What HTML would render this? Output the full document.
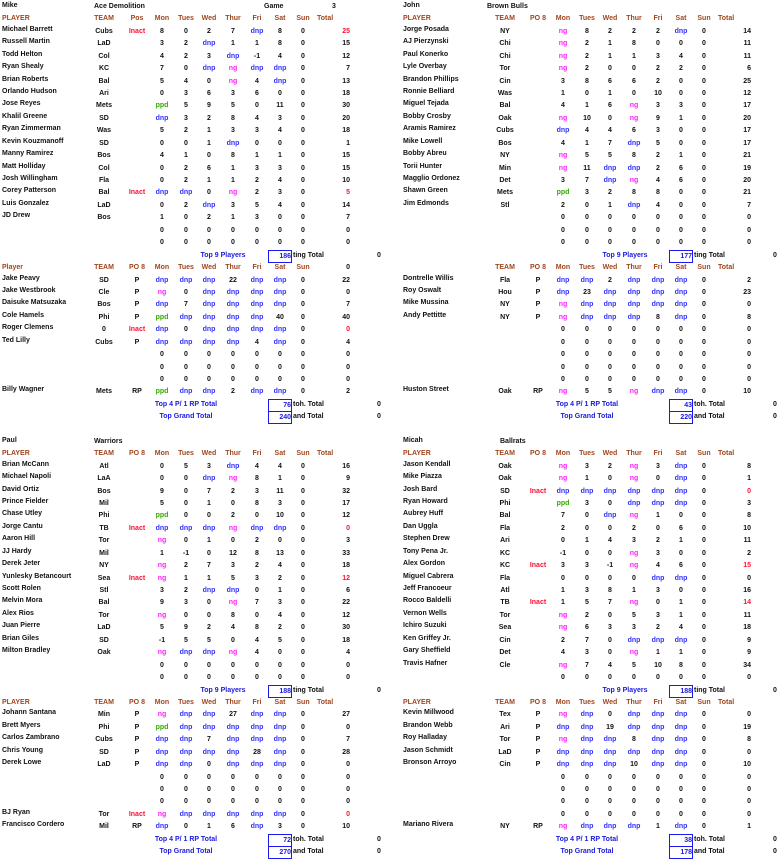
<!DOCTYPE html>
<html><head><meta charset="utf-8">
<style>
*{margin:0;padding:0}
body{width:779px;height:857px;background:#fff;position:relative;overflow:hidden;font-family:"Liberation Sans",Arial,sans-serif;font-size:7px;font-weight:bold;color:#111}
.q{position:absolute;width:390px}
.r{position:relative;height:12.44px;line-height:12.44px;white-space:nowrap}
.r i{position:absolute;font-style:normal;width:30px;margin-left:-15px;text-align:center;top:0}
.r i:nth-child(1){left:2px;margin-left:0;width:auto;text-align:left;top:-2px}
.r i:nth-child(2){left:104px}
.r i:nth-child(3){left:137px}
.r i:nth-child(4){left:162px}
.r i:nth-child(5){left:186px}
.r i:nth-child(6){left:209px}
.r i:nth-child(7){left:233px}
.r i:nth-child(8){left:257px}
.r i:nth-child(9){left:280px}
.r i:nth-child(10){left:303px}
.r i:nth-child(11){left:320px;margin-left:0;text-align:right}
.h i{color:#a0461e}
.h i:nth-child(1){top:0}
.h i:nth-child(11){left:317px;text-align:left}
.h i.k{color:#111;left:320px;text-align:right}
.d{color:#3333ff}.n{color:#ff22ff}.p{color:#33aa00}.x{color:#ff1133}
.r span{position:absolute;top:0}
.tl{color:#1a1add;transform:translateX(-50%)}
.bx{left:268px;width:22px;height:11px;border:1.5px solid #1a1aee;line-height:11px;text-align:right;color:#1a1add;top:0!important}
.tt{left:293px}
.z{left:377px}
.R .z{left:372px}
.tm{left:2px;top:-1px!important}
.tn{left:94px}
</style></head><body>

<!-- TOP LEFT -->
<div class="q" style="left:0;top:0.9px">
<div class="r"><span class="tm">Mike</span><span class="tn">Ace Demolition</span><span style="left:264px">Game</span><span style="left:332px">3</span></div>
<div class="r h"><i>PLAYER</i><i>TEAM</i><i>Pos</i><i>Mon</i><i>Tues</i><i>Wed</i><i>Thur</i><i>Fri</i><i>Sat</i><i>Sun</i><i>Total</i></div>
<div class="r"><i>Michael Barrett</i><i>Cubs</i><i class="x">Inact</i><i>8</i><i>0</i><i>2</i><i>7</i><i class="d">dnp</i><i>8</i><i>0</i><i class="x">25</i></div>
<div class="r"><i>Russell Martin</i><i>LaD</i><i></i><i>3</i><i>2</i><i class="d">dnp</i><i>1</i><i>1</i><i>8</i><i>0</i><i>15</i></div>
<div class="r"><i>Todd Helton</i><i>Col</i><i></i><i>4</i><i>2</i><i>3</i><i class="d">dnp</i><i>-1</i><i>4</i><i>0</i><i>12</i></div>
<div class="r"><i>Ryan Shealy</i><i>KC</i><i></i><i>7</i><i>0</i><i class="d">dnp</i><i class="n">ng</i><i class="d">dnp</i><i class="d">dnp</i><i>0</i><i>7</i></div>
<div class="r"><i>Brian Roberts</i><i>Bal</i><i></i><i>5</i><i>4</i><i>0</i><i class="n">ng</i><i>4</i><i class="d">dnp</i><i>0</i><i>13</i></div>
<div class="r"><i>Orlando Hudson</i><i>Ari</i><i></i><i>0</i><i>3</i><i>6</i><i>3</i><i>6</i><i>0</i><i>0</i><i>18</i></div>
<div class="r"><i>Jose Reyes</i><i>Mets</i><i></i><i class="p">ppd</i><i>5</i><i>9</i><i>5</i><i>0</i><i>11</i><i>0</i><i>30</i></div>
<div class="r"><i>Khalil Greene</i><i>SD</i><i></i><i class="d">dnp</i><i>3</i><i>2</i><i>8</i><i>4</i><i>3</i><i>0</i><i>20</i></div>
<div class="r"><i>Ryan Zimmerman</i><i>Was</i><i></i><i>5</i><i>2</i><i>1</i><i>3</i><i>3</i><i>4</i><i>0</i><i>18</i></div>
<div class="r"><i>Kevin Kouzmanoff</i><i>SD</i><i></i><i>0</i><i>0</i><i>1</i><i class="d">dnp</i><i>0</i><i>0</i><i>0</i><i>1</i></div>
<div class="r"><i>Manny Ramirez</i><i>Bos</i><i></i><i>4</i><i>1</i><i>0</i><i>8</i><i>1</i><i>1</i><i>0</i><i>15</i></div>
<div class="r"><i>Matt Holliday</i><i>Col</i><i></i><i>0</i><i>2</i><i>6</i><i>1</i><i>3</i><i>3</i><i>0</i><i>15</i></div>
<div class="r"><i>Josh Willingham</i><i>Fla</i><i></i><i>0</i><i>2</i><i>1</i><i>1</i><i>2</i><i>4</i><i>0</i><i>10</i></div>
<div class="r"><i>Corey Patterson</i><i>Bal</i><i class="x">Inact</i><i class="d">dnp</i><i class="d">dnp</i><i>0</i><i class="n">ng</i><i>2</i><i>3</i><i>0</i><i class="x">5</i></div>
<div class="r"><i>Luis Gonzalez</i><i>LaD</i><i></i><i>0</i><i>2</i><i class="d">dnp</i><i>3</i><i>5</i><i>4</i><i>0</i><i>14</i></div>
<div class="r"><i>JD Drew</i><i>Bos</i><i></i><i>1</i><i>0</i><i>2</i><i>1</i><i>3</i><i>0</i><i>0</i><i>7</i></div>
<div class="r"><i></i><i></i><i></i><i>0</i><i>0</i><i>0</i><i>0</i><i>0</i><i>0</i><i>0</i><i>0</i></div>
<div class="r"><i></i><i></i><i></i><i>0</i><i>0</i><i>0</i><i>0</i><i>0</i><i>0</i><i>0</i><i>0</i></div>
<div class="r"><span class="tl" style="left:223px">Top 9 Players</span><span class="bx">186</span><span class="tt">ting Total</span><span class="z">0</span></div>
<div class="r h"><i>Player</i><i>TEAM</i><i>PO 8</i><i>Mon</i><i>Tues</i><i>Wed</i><i>Thur</i><i>Fri</i><i>Sat</i><i>Sun</i><i class="k">0</i></div>
<div class="r"><i>Jake Peavy</i><i>SD</i><i>P</i><i class="d">dnp</i><i class="d">dnp</i><i class="d">dnp</i><i>22</i><i class="d">dnp</i><i class="d">dnp</i><i>0</i><i>22</i></div>
<div class="r"><i>Jake Westbrook</i><i>Cle</i><i>P</i><i class="n">ng</i><i>0</i><i class="d">dnp</i><i class="d">dnp</i><i class="d">dnp</i><i class="d">dnp</i><i>0</i><i>0</i></div>
<div class="r"><i>Daisuke Matsuzaka</i><i>Bos</i><i>P</i><i class="d">dnp</i><i>7</i><i class="d">dnp</i><i class="d">dnp</i><i class="d">dnp</i><i class="d">dnp</i><i>0</i><i>7</i></div>
<div class="r"><i>Cole Hamels</i><i>Phi</i><i>P</i><i class="p">ppd</i><i class="d">dnp</i><i class="d">dnp</i><i class="d">dnp</i><i class="d">dnp</i><i>40</i><i>0</i><i>40</i></div>
<div class="r"><i>Roger Clemens</i><i>0</i><i class="x">Inact</i><i class="d">dnp</i><i>0</i><i class="d">dnp</i><i class="d">dnp</i><i class="d">dnp</i><i class="d">dnp</i><i>0</i><i class="x">0</i></div>
<div class="r"><i>Ted Lilly</i><i>Cubs</i><i>P</i><i class="d">dnp</i><i class="d">dnp</i><i class="d">dnp</i><i class="d">dnp</i><i>4</i><i class="d">dnp</i><i>0</i><i>4</i></div>
<div class="r"><i></i><i></i><i></i><i>0</i><i>0</i><i>0</i><i>0</i><i>0</i><i>0</i><i>0</i><i>0</i></div>
<div class="r"><i></i><i></i><i></i><i>0</i><i>0</i><i>0</i><i>0</i><i>0</i><i>0</i><i>0</i><i>0</i></div>
<div class="r"><i></i><i></i><i></i><i>0</i><i>0</i><i>0</i><i>0</i><i>0</i><i>0</i><i>0</i><i>0</i></div>
<div class="r"><i>Billy Wagner</i><i>Mets</i><i>RP</i><i class="p">ppd</i><i class="d">dnp</i><i class="d">dnp</i><i>2</i><i class="d">dnp</i><i class="d">dnp</i><i>0</i><i>2</i></div>
<div class="r"><span class="tl" style="left:186px">Top 4 P/ 1 RP Total</span><span class="bx">76</span><span class="tt">toh. Total</span><span class="z">0</span></div>
<div class="r"><span class="tl" style="left:186px">Top Grand Total</span><span class="bx">240</span><span class="tt">and Total</span><span class="z">0</span></div>
</div>

<!-- TOP RIGHT -->
<div class="q R" style="left:401px;top:0.9px">
<div class="r"><span class="tm">John</span><span class="tn" style="left:86px">Brown Bulls</span></div>
<div class="r h"><i>PLAYER</i><i>TEAM</i><i>PO 8</i><i>Mon</i><i>Tues</i><i>Wed</i><i>Thur</i><i>Fri</i><i>Sat</i><i>Sun</i><i>Total</i></div>
<div class="r"><i>Jorge Posada</i><i>NY</i><i></i><i class="n">ng</i><i>8</i><i>2</i><i>2</i><i>2</i><i class="d">dnp</i><i>0</i><i>14</i></div>
<div class="r"><i>AJ Pierzynski</i><i>Chi</i><i></i><i class="n">ng</i><i>2</i><i>1</i><i>8</i><i>0</i><i>0</i><i>0</i><i>11</i></div>
<div class="r"><i>Paul Konerko</i><i>Chi</i><i></i><i class="n">ng</i><i>2</i><i>1</i><i>1</i><i>3</i><i>4</i><i>0</i><i>11</i></div>
<div class="r"><i>Lyle Overbay</i><i>Tor</i><i></i><i class="n">ng</i><i>2</i><i>0</i><i>0</i><i>2</i><i>2</i><i>0</i><i>6</i></div>
<div class="r"><i>Brandon Phillips</i><i>Cin</i><i></i><i>3</i><i>8</i><i>6</i><i>6</i><i>2</i><i>0</i><i>0</i><i>25</i></div>
<div class="r"><i>Ronnie Belliard</i><i>Was</i><i></i><i>1</i><i>0</i><i>1</i><i>0</i><i>10</i><i>0</i><i>0</i><i>12</i></div>
<div class="r"><i>Miguel Tejada</i><i>Bal</i><i></i><i>4</i><i>1</i><i>6</i><i class="n">ng</i><i>3</i><i>3</i><i>0</i><i>17</i></div>
<div class="r"><i>Bobby Crosby</i><i>Oak</i><i></i><i class="n">ng</i><i>10</i><i>0</i><i class="n">ng</i><i>9</i><i>1</i><i>0</i><i>20</i></div>
<div class="r"><i>Aramis Ramirez</i><i>Cubs</i><i></i><i class="d">dnp</i><i>4</i><i>4</i><i>6</i><i>3</i><i>0</i><i>0</i><i>17</i></div>
<div class="r"><i>Mike Lowell</i><i>Bos</i><i></i><i>4</i><i>1</i><i>7</i><i class="d">dnp</i><i>5</i><i>0</i><i>0</i><i>17</i></div>
<div class="r"><i>Bobby Abreu</i><i>NY</i><i></i><i class="n">ng</i><i>5</i><i>5</i><i>8</i><i>2</i><i>1</i><i>0</i><i>21</i></div>
<div class="r"><i>Torii Hunter</i><i>Min</i><i></i><i class="n">ng</i><i>11</i><i class="d">dnp</i><i class="d">dnp</i><i>2</i><i>6</i><i>0</i><i>19</i></div>
<div class="r"><i>Magglio Ordonez</i><i>Det</i><i></i><i>3</i><i>7</i><i class="d">dnp</i><i class="n">ng</i><i>4</i><i>6</i><i>0</i><i>20</i></div>
<div class="r"><i>Shawn Green</i><i>Mets</i><i></i><i class="p">ppd</i><i>3</i><i>2</i><i>8</i><i>8</i><i>0</i><i>0</i><i>21</i></div>
<div class="r"><i>Jim Edmonds</i><i>Stl</i><i></i><i>2</i><i>0</i><i>1</i><i class="d">dnp</i><i>4</i><i>0</i><i>0</i><i>7</i></div>
<div class="r"><i></i><i></i><i></i><i>0</i><i>0</i><i>0</i><i>0</i><i>0</i><i>0</i><i>0</i><i>0</i></div>
<div class="r"><i></i><i></i><i></i><i>0</i><i>0</i><i>0</i><i>0</i><i>0</i><i>0</i><i>0</i><i>0</i></div>
<div class="r"><i></i><i></i><i></i><i>0</i><i>0</i><i>0</i><i>0</i><i>0</i><i>0</i><i>0</i><i>0</i></div>
<div class="r"><span class="tl" style="left:224px">Top 9 Players</span><span class="bx">177</span><span class="tt">ting Total</span><span class="z">0</span></div>
<div class="r h"><i></i><i>TEAM</i><i>PO 8</i><i>Mon</i><i>Tues</i><i>Wed</i><i>Thur</i><i>Fri</i><i>Sat</i><i>Sun</i><i>Total</i></div>
<div class="r"><i>Dontrelle Willis</i><i>Fla</i><i>P</i><i class="d">dnp</i><i class="d">dnp</i><i>2</i><i class="d">dnp</i><i class="d">dnp</i><i class="d">dnp</i><i>0</i><i>2</i></div>
<div class="r"><i>Roy Oswalt</i><i>Hou</i><i>P</i><i class="d">dnp</i><i>23</i><i class="d">dnp</i><i class="d">dnp</i><i class="d">dnp</i><i class="d">dnp</i><i>0</i><i>23</i></div>
<div class="r"><i>Mike Mussina</i><i>NY</i><i>P</i><i class="n">ng</i><i class="d">dnp</i><i class="d">dnp</i><i class="d">dnp</i><i class="d">dnp</i><i class="d">dnp</i><i>0</i><i>0</i></div>
<div class="r"><i>Andy Pettitte</i><i>NY</i><i>P</i><i class="n">ng</i><i class="d">dnp</i><i class="d">dnp</i><i class="d">dnp</i><i>8</i><i class="d">dnp</i><i>0</i><i>8</i></div>
<div class="r"><i></i><i></i><i></i><i>0</i><i>0</i><i>0</i><i>0</i><i>0</i><i>0</i><i>0</i><i>0</i></div>
<div class="r"><i></i><i></i><i></i><i>0</i><i>0</i><i>0</i><i>0</i><i>0</i><i>0</i><i>0</i><i>0</i></div>
<div class="r"><i></i><i></i><i></i><i>0</i><i>0</i><i>0</i><i>0</i><i>0</i><i>0</i><i>0</i><i>0</i></div>
<div class="r"><i></i><i></i><i></i><i>0</i><i>0</i><i>0</i><i>0</i><i>0</i><i>0</i><i>0</i><i>0</i></div>
<div class="r"><i></i><i></i><i></i><i>0</i><i>0</i><i>0</i><i>0</i><i>0</i><i>0</i><i>0</i><i>0</i></div>
<div class="r"><i>Huston Street</i><i>Oak</i><i>RP</i><i class="n">ng</i><i>5</i><i>5</i><i class="n">ng</i><i class="d">dnp</i><i class="d">dnp</i><i>0</i><i>10</i></div>
<div class="r"><span class="tl" style="left:186px">Top 4 P/ 1 RP Total</span><span class="bx">43</span><span class="tt">toh. Total</span><span class="z">0</span></div>
<div class="r"><span class="tl" style="left:186px">Top Grand Total</span><span class="bx">220</span><span class="tt">and Total</span><span class="z">0</span></div>
</div>

<!-- BOTTOM LEFT -->
<div class="q" style="left:0;top:435.8px">
<div class="r"><span class="tm">Paul</span><span class="tn">Warriors</span></div>
<div class="r h"><i>PLAYER</i><i>TEAM</i><i>PO 8</i><i>Mon</i><i>Tues</i><i>Wed</i><i>Thur</i><i>Fri</i><i>Sat</i><i>Sun</i><i>Total</i></div>
<div class="r"><i>Brian McCann</i><i>Atl</i><i></i><i>0</i><i>5</i><i>3</i><i class="d">dnp</i><i>4</i><i>4</i><i>0</i><i>16</i></div>
<div class="r"><i>Michael Napoli</i><i>LaA</i><i></i><i>0</i><i>0</i><i class="d">dnp</i><i class="n">ng</i><i>8</i><i>1</i><i>0</i><i>9</i></div>
<div class="r"><i>David Ortiz</i><i>Bos</i><i></i><i>9</i><i>0</i><i>7</i><i>2</i><i>3</i><i>11</i><i>0</i><i>32</i></div>
<div class="r"><i>Prince Fielder</i><i>Mil</i><i></i><i>5</i><i>0</i><i>1</i><i>0</i><i>8</i><i>3</i><i>0</i><i>17</i></div>
<div class="r"><i>Chase Utley</i><i>Phi</i><i></i><i class="p">ppd</i><i>0</i><i>0</i><i>2</i><i>0</i><i>10</i><i>0</i><i>12</i></div>
<div class="r"><i>Jorge Cantu</i><i>TB</i><i class="x">Inact</i><i class="d">dnp</i><i class="d">dnp</i><i class="d">dnp</i><i class="n">ng</i><i class="d">dnp</i><i class="d">dnp</i><i>0</i><i class="x">0</i></div>
<div class="r"><i>Aaron Hill</i><i>Tor</i><i></i><i class="n">ng</i><i>0</i><i>1</i><i>0</i><i>2</i><i>0</i><i>0</i><i>3</i></div>
<div class="r"><i>JJ Hardy</i><i>Mil</i><i></i><i>1</i><i>-1</i><i>0</i><i>12</i><i>8</i><i>13</i><i>0</i><i>33</i></div>
<div class="r"><i>Derek Jeter</i><i>NY</i><i></i><i class="n">ng</i><i>2</i><i>7</i><i>3</i><i>2</i><i>4</i><i>0</i><i>18</i></div>
<div class="r"><i>Yunlesky Betancourt</i><i>Sea</i><i class="x">Inact</i><i class="n">ng</i><i>1</i><i>1</i><i>5</i><i>3</i><i>2</i><i>0</i><i class="x">12</i></div>
<div class="r"><i>Scott Rolen</i><i>Stl</i><i></i><i>3</i><i>2</i><i class="d">dnp</i><i class="d">dnp</i><i>0</i><i>1</i><i>0</i><i>6</i></div>
<div class="r"><i>Melvin Mora</i><i>Bal</i><i></i><i>9</i><i>3</i><i>0</i><i class="n">ng</i><i>7</i><i>3</i><i>0</i><i>22</i></div>
<div class="r"><i>Alex Rios</i><i>Tor</i><i></i><i class="n">ng</i><i>0</i><i>0</i><i>8</i><i>0</i><i>4</i><i>0</i><i>12</i></div>
<div class="r"><i>Juan Pierre</i><i>LaD</i><i></i><i>5</i><i>9</i><i>2</i><i>4</i><i>8</i><i>2</i><i>0</i><i>30</i></div>
<div class="r"><i>Brian Giles</i><i>SD</i><i></i><i>-1</i><i>5</i><i>5</i><i>0</i><i>4</i><i>5</i><i>0</i><i>18</i></div>
<div class="r"><i>Milton Bradley</i><i>Oak</i><i></i><i class="n">ng</i><i class="d">dnp</i><i class="d">dnp</i><i class="n">ng</i><i>4</i><i>0</i><i>0</i><i>4</i></div>
<div class="r"><i></i><i></i><i></i><i>0</i><i>0</i><i>0</i><i>0</i><i>0</i><i>0</i><i>0</i><i>0</i></div>
<div class="r"><i></i><i></i><i></i><i>0</i><i>0</i><i>0</i><i>0</i><i>0</i><i>0</i><i>0</i><i>0</i></div>
<div class="r"><span class="tl" style="left:223px">Top 9 Players</span><span class="bx">188</span><span class="tt">ting Total</span><span class="z">0</span></div>
<div class="r h"><i>PLAYER</i><i>TEAM</i><i>PO 8</i><i>Mon</i><i>Tues</i><i>Wed</i><i>Thur</i><i>Fri</i><i>Sat</i><i>Sun</i><i>Total</i></div>
<div class="r"><i>Johann Santana</i><i>Min</i><i>P</i><i class="n">ng</i><i class="d">dnp</i><i class="d">dnp</i><i>27</i><i class="d">dnp</i><i class="d">dnp</i><i>0</i><i>27</i></div>
<div class="r"><i>Brett Myers</i><i>Phi</i><i>P</i><i class="p">ppd</i><i class="d">dnp</i><i class="d">dnp</i><i class="d">dnp</i><i class="d">dnp</i><i class="d">dnp</i><i>0</i><i>0</i></div>
<div class="r"><i>Carlos Zambrano</i><i>Cubs</i><i>P</i><i class="d">dnp</i><i class="d">dnp</i><i>7</i><i class="d">dnp</i><i class="d">dnp</i><i class="d">dnp</i><i>0</i><i>7</i></div>
<div class="r"><i>Chris Young</i><i>SD</i><i>P</i><i class="d">dnp</i><i class="d">dnp</i><i class="d">dnp</i><i class="d">dnp</i><i>28</i><i class="d">dnp</i><i>0</i><i>28</i></div>
<div class="r"><i>Derek Lowe</i><i>LaD</i><i>P</i><i class="d">dnp</i><i class="d">dnp</i><i>0</i><i class="d">dnp</i><i class="d">dnp</i><i class="d">dnp</i><i>0</i><i>0</i></div>
<div class="r"><i></i><i></i><i></i><i>0</i><i>0</i><i>0</i><i>0</i><i>0</i><i>0</i><i>0</i><i>0</i></div>
<div class="r"><i></i><i></i><i></i><i>0</i><i>0</i><i>0</i><i>0</i><i>0</i><i>0</i><i>0</i><i>0</i></div>
<div class="r"><i></i><i></i><i></i><i>0</i><i>0</i><i>0</i><i>0</i><i>0</i><i>0</i><i>0</i><i>0</i></div>
<div class="r"><i>BJ Ryan</i><i>Tor</i><i class="x">Inact</i><i class="n">ng</i><i class="d">dnp</i><i class="d">dnp</i><i class="d">dnp</i><i class="d">dnp</i><i class="d">dnp</i><i>0</i><i class="x">0</i></div>
<div class="r"><i>Francisco Cordero</i><i>Mil</i><i>RP</i><i class="d">dnp</i><i>0</i><i>1</i><i>6</i><i class="d">dnp</i><i>3</i><i>0</i><i>10</i></div>
<div class="r"><span class="tl" style="left:186px">Top 4 P/ 1 RP Total</span><span class="bx">72</span><span class="tt">toh. Total</span><span class="z">0</span></div>
<div class="r"><span class="tl" style="left:186px">Top Grand Total</span><span class="bx">270</span><span class="tt">and Total</span><span class="z">0</span></div>
</div>

<!-- BOTTOM RIGHT -->
<div class="q R" style="left:401px;top:435.8px">
<div class="r"><span class="tm">Micah</span><span class="tn" style="left:99px">Ballrats</span></div>
<div class="r h"><i>PLAYER</i><i>TEAM</i><i>PO 8</i><i>Mon</i><i>Tues</i><i>Wed</i><i>Thur</i><i>Fri</i><i>Sat</i><i>Sun</i><i>Total</i></div>
<div class="r"><i>Jason Kendall</i><i>Oak</i><i></i><i class="n">ng</i><i>3</i><i>2</i><i class="n">ng</i><i>3</i><i class="d">dnp</i><i>0</i><i>8</i></div>
<div class="r"><i>Mike Piazza</i><i>Oak</i><i></i><i class="n">ng</i><i>1</i><i>0</i><i class="n">ng</i><i>0</i><i class="d">dnp</i><i>0</i><i>1</i></div>
<div class="r"><i>Josh Bard</i><i>SD</i><i class="x">Inact</i><i class="d">dnp</i><i class="d">dnp</i><i class="d">dnp</i><i class="d">dnp</i><i class="d">dnp</i><i class="d">dnp</i><i>0</i><i class="x">0</i></div>
<div class="r"><i>Ryan Howard</i><i>Phi</i><i></i><i class="p">ppd</i><i>3</i><i>0</i><i class="d">dnp</i><i class="d">dnp</i><i class="d">dnp</i><i>0</i><i>3</i></div>
<div class="r"><i>Aubrey Huff</i><i>Bal</i><i></i><i>7</i><i>0</i><i class="d">dnp</i><i class="n">ng</i><i>1</i><i>0</i><i>0</i><i>8</i></div>
<div class="r"><i>Dan Uggla</i><i>Fla</i><i></i><i>2</i><i>0</i><i>0</i><i>2</i><i>0</i><i>6</i><i>0</i><i>10</i></div>
<div class="r"><i>Stephen Drew</i><i>Ari</i><i></i><i>0</i><i>1</i><i>4</i><i>3</i><i>2</i><i>1</i><i>0</i><i>11</i></div>
<div class="r"><i>Tony Pena Jr.</i><i>KC</i><i></i><i>-1</i><i>0</i><i>0</i><i class="n">ng</i><i>3</i><i>0</i><i>0</i><i>2</i></div>
<div class="r"><i>Alex Gordon</i><i>KC</i><i class="x">Inact</i><i>3</i><i>3</i><i>-1</i><i class="n">ng</i><i>4</i><i>6</i><i>0</i><i class="x">15</i></div>
<div class="r"><i>Miguel Cabrera</i><i>Fla</i><i></i><i>0</i><i>0</i><i>0</i><i>0</i><i class="d">dnp</i><i class="d">dnp</i><i>0</i><i>0</i></div>
<div class="r"><i>Jeff Francoeur</i><i>Atl</i><i></i><i>1</i><i>3</i><i>8</i><i>1</i><i>3</i><i>0</i><i>0</i><i>16</i></div>
<div class="r"><i>Rocco Baldelli</i><i>TB</i><i class="x">Inact</i><i>1</i><i>5</i><i>7</i><i class="n">ng</i><i>0</i><i>1</i><i>0</i><i class="x">14</i></div>
<div class="r"><i>Vernon Wells</i><i>Tor</i><i></i><i class="n">ng</i><i>2</i><i>0</i><i>5</i><i>3</i><i>1</i><i>0</i><i>11</i></div>
<div class="r"><i>Ichiro Suzuki</i><i>Sea</i><i></i><i class="n">ng</i><i>6</i><i>3</i><i>3</i><i>2</i><i>4</i><i>0</i><i>18</i></div>
<div class="r"><i>Ken Griffey Jr.</i><i>Cin</i><i></i><i>2</i><i>7</i><i>0</i><i class="d">dnp</i><i class="d">dnp</i><i class="d">dnp</i><i>0</i><i>9</i></div>
<div class="r"><i>Gary Sheffield</i><i>Det</i><i></i><i>4</i><i>3</i><i>0</i><i class="n">ng</i><i>1</i><i>1</i><i>0</i><i>9</i></div>
<div class="r"><i>Travis Hafner</i><i>Cle</i><i></i><i class="n">ng</i><i>7</i><i>4</i><i>5</i><i>10</i><i>8</i><i>0</i><i>34</i></div>
<div class="r"><i></i><i></i><i></i><i>0</i><i>0</i><i>0</i><i>0</i><i>0</i><i>0</i><i>0</i><i>0</i></div>
<div class="r"><span class="tl" style="left:224px">Top 9 Players</span><span class="bx">188</span><span class="tt">ting Total</span><span class="z">0</span></div>
<div class="r h"><i>PLAYER</i><i>TEAM</i><i>PO 8</i><i>Mon</i><i>Tues</i><i>Wed</i><i>Thur</i><i>Fri</i><i>Sat</i><i>Sun</i><i>Total</i></div>
<div class="r"><i>Kevin Millwood</i><i>Tex</i><i>P</i><i class="n">ng</i><i class="d">dnp</i><i>0</i><i class="d">dnp</i><i class="d">dnp</i><i class="d">dnp</i><i>0</i><i>0</i></div>
<div class="r"><i>Brandon Webb</i><i>Ari</i><i>P</i><i class="d">dnp</i><i class="d">dnp</i><i>19</i><i class="d">dnp</i><i class="d">dnp</i><i class="d">dnp</i><i>0</i><i>19</i></div>
<div class="r"><i>Roy Halladay</i><i>Tor</i><i>P</i><i class="n">ng</i><i class="d">dnp</i><i class="d">dnp</i><i>8</i><i class="d">dnp</i><i class="d">dnp</i><i>0</i><i>8</i></div>
<div class="r"><i>Jason Schmidt</i><i>LaD</i><i>P</i><i class="d">dnp</i><i class="d">dnp</i><i class="d">dnp</i><i class="d">dnp</i><i class="d">dnp</i><i class="d">dnp</i><i>0</i><i>0</i></div>
<div class="r"><i>Bronson Arroyo</i><i>Cin</i><i>P</i><i class="d">dnp</i><i class="d">dnp</i><i class="d">dnp</i><i>10</i><i class="d">dnp</i><i class="d">dnp</i><i>0</i><i>10</i></div>
<div class="r"><i></i><i></i><i></i><i>0</i><i>0</i><i>0</i><i>0</i><i>0</i><i>0</i><i>0</i><i>0</i></div>
<div class="r"><i></i><i></i><i></i><i>0</i><i>0</i><i>0</i><i>0</i><i>0</i><i>0</i><i>0</i><i>0</i></div>
<div class="r"><i></i><i></i><i></i><i>0</i><i>0</i><i>0</i><i>0</i><i>0</i><i>0</i><i>0</i><i>0</i></div>
<div class="r"><i></i><i></i><i></i><i>0</i><i>0</i><i>0</i><i>0</i><i>0</i><i>0</i><i>0</i><i>0</i></div>
<div class="r"><i>Mariano Rivera</i><i>NY</i><i>RP</i><i class="n">ng</i><i class="d">dnp</i><i class="d">dnp</i><i class="d">dnp</i><i>1</i><i class="d">dnp</i><i>0</i><i>1</i></div>
<div class="r"><span class="tl" style="left:186px">Top 4 P/ 1 RP Total</span><span class="bx">38</span><span class="tt">toh. Total</span><span class="z">0</span></div>
<div class="r"><span class="tl" style="left:186px">Top Grand Total</span><span class="bx">178</span><span class="tt">and Total</span><span class="z">0</span></div>
</div>

</body></html>
